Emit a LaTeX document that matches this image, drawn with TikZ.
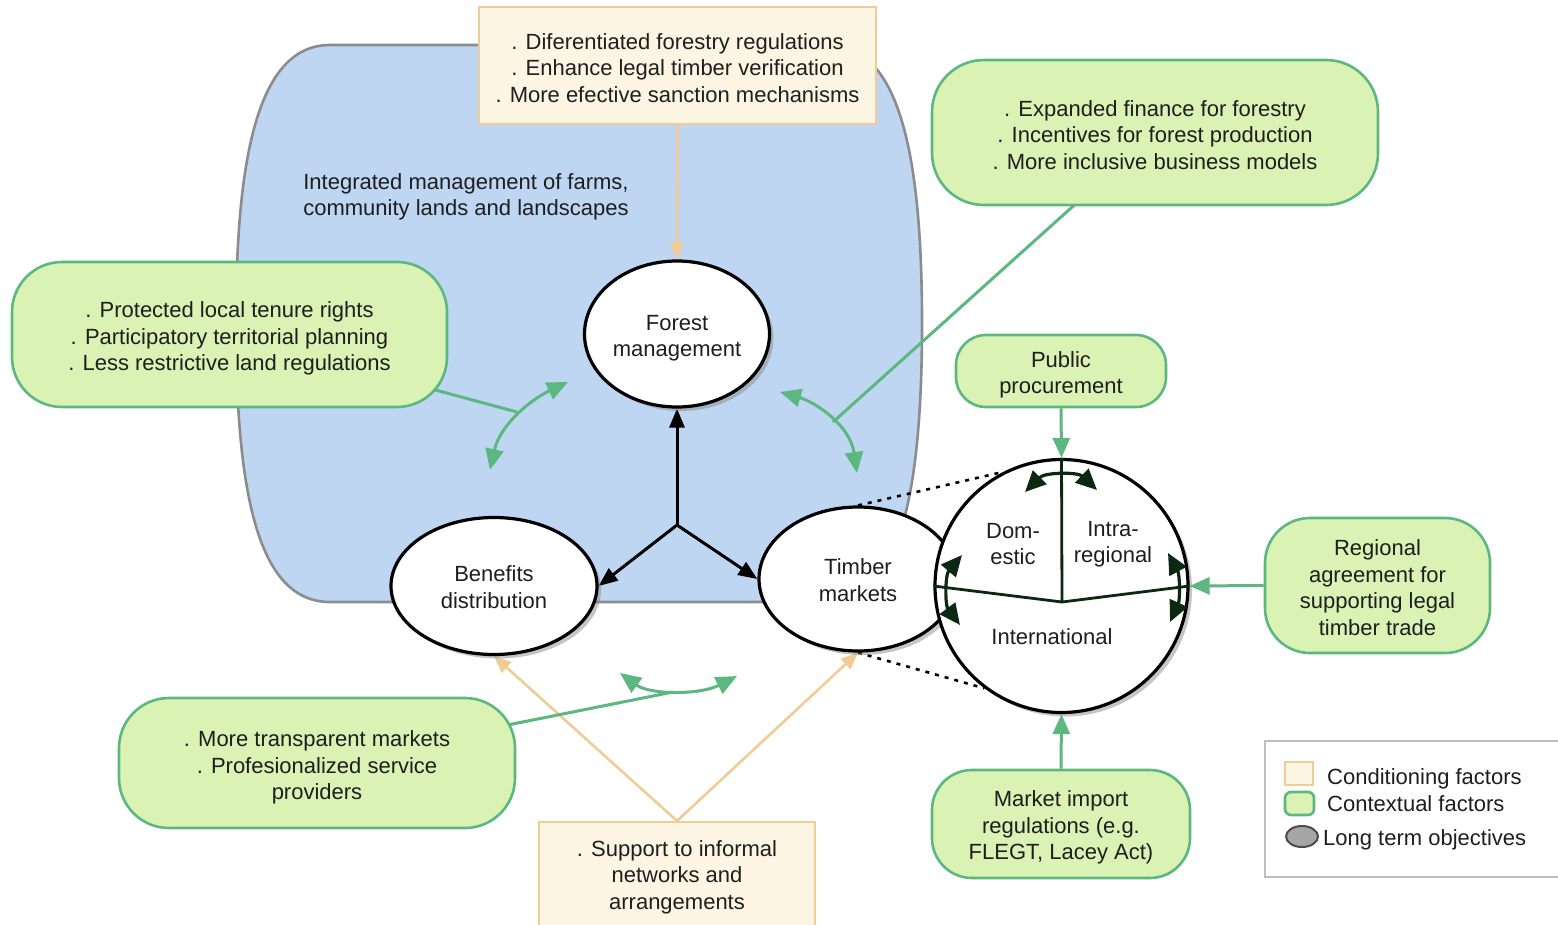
\documentclass[tikz,border=0pt]{standalone}
\usepackage{fontspec}
\setmainfont{Liberation Sans}
\usetikzlibrary{shapes.geometric,arrows.meta,shadows}
\definecolor{bluefill}{RGB}{190,214,242}
\definecolor{blueline}{RGB}{140,140,140}
\definecolor{ctxfill}{RGB}{218,242,180}
\definecolor{ctxline}{RGB}{92,184,128}
\definecolor{condfill}{RGB}{253,245,227}
\definecolor{condline}{RGB}{240,204,150}
\definecolor{darkarr}{RGB}{12,40,18}
\definecolor{txt}{RGB}{30,30,30}
\pgfdeclarelayer{bg}\pgfdeclarelayer{conn}\pgfsetlayers{bg,conn,main}
\begin{document}
\begin{tikzpicture}[x=1pt,y=-1pt,
  every node/.style={font=\fontsize{22}{26.5}\selectfont, text=txt, align=center, inner sep=0pt},
  ctx/.style={draw=ctxline, fill=ctxfill, line width=2.6pt, rectangle},
  cond/.style={draw=condline, fill=condfill, line width=2.2pt, rectangle},
  obj/.style={ellipse, draw=black, line width=3.2pt, fill=white, drop shadow={opacity=0.45, shadow xshift=4pt, shadow yshift=-4pt}},
  gline/.style={draw=ctxline, line width=3pt},
  garr/.style={gline, -{Triangle[length=20pt,width=17pt]}},
  gdbl/.style={gline, {Triangle[length=21pt,width=18pt]}-{Triangle[length=21pt,width=18pt]}},
  tarr/.style={draw=condline, line width=2.6pt, -{Triangle[length=17pt,width=14pt]}},
  barr/.style={draw=black, line width=3pt, -{Triangle[length=19pt,width=15pt]}},
  darr/.style={draw=darkarr, line width=3.2pt, {Triangle[length=21pt,width=19pt]}-{Triangle[length=21pt,width=19pt]}},
  dots/.style={draw=black, line width=2.6pt, dash pattern=on 4pt off 6pt}
]
\useasboundingbox (0,0) rectangle (1558,924);

% blue region
\begin{pgfonlayer}{bg}
\fill[white] (0,0) rectangle (1558,924);
\draw[fill=bluefill, draw=blueline, line width=2.6pt]
  (330,45) -- (828,45)
  .. controls (898,45) and (922,150) .. (922,323)
  .. controls (922,500) and (898,602) .. (828,602)
  -- (330,602)
  .. controls (260,602) and (236,500) .. (236,323)
  .. controls (236,150) and (260,45) .. (330,45) -- cycle;
\end{pgfonlayer}

% conditioning boxes
\node[cond, minimum width=397pt, minimum height=117pt] (tcond) at (677.5,65.5) {};
\node (tcondt) at ([yshift=-2.5pt]tcond.center)
  {. Diferentiated forestry regulations\\. Enhance legal timber verification\\. More efective sanction mechanisms};
\node[cond, minimum width=276pt, minimum height=112pt] (bcond) at (677,878) {};
\node (bcondt) at (677,877) {. Support to informal\\networks and\\arrangements};

% contextual boxes
\node[ctx, rounded corners=50pt, minimum width=435pt, minimum height=145pt] (lbox) at (229.5,334.5) {};
\node (lboxt) at ([yshift=-4pt]lbox.center)
  {. Protected local tenure rights\\. Participatory territorial planning\\. Less restrictive land regulations};
\node[ctx, rounded corners=52pt, minimum width=446pt, minimum height=145pt] (trbox) at (1155,132.5) {};
\node (trboxt) at ([yshift=-2.5pt]trbox.center)
  {. Expanded finance for forestry\\. Incentives for forest production\\. More inclusive business models};
\node[ctx, rounded corners=30pt, minimum width=210pt, minimum height=72pt] (pp) at (1061,371) {};
\node (ppt) at ([yshift=-4pt]pp.center) {Public\\procurement};
\node[ctx, rounded corners=45pt, minimum width=225pt, minimum height=135pt] (reg) at (1377.5,585.5) {};
\node (regt) at ([yshift=-2pt]reg.center) {Regional\\agreement for\\supporting legal\\timber trade};
\node[ctx, rounded corners=40pt, minimum width=258pt, minimum height=108pt] (mi) at (1061,824) {};
\node (mit) at ([yshift=-3.5pt]mi.center) {Market import\\regulations (e.g.\\FLEGT, Lacey Act)};
\node[ctx, rounded corners=50pt, minimum width=396pt, minimum height=130pt] (blbox) at (317,763) {};
\node (blboxt) at ([yshift=-4.5pt]blbox.center) {. More transparent markets\\. Profesionalized service\\providers};

% region title
\node (title) at (466,197) {Integrated management of farms,\\community lands and landscapes};

% objectives
\node[obj, minimum width=185pt, minimum height=146pt] (fm) at (677,334) {};
\node (fmt) at (677,338) {Forest\\management};
\node[obj, minimum width=206pt, minimum height=137pt] (bd) at (494,586) {};
\node (bdt) at (494,587) {Benefits\\distribution};
\node[obj, minimum width=198pt, minimum height=144pt] (tm) at (858,579) {};
\node (tmt) at (858,580) {Timber\\markets};
\node[obj, circle, minimum size=253pt] (mk) at (1061.5,586) {};

% junction coordinates
\coordinate (jn) at (677,525);
\coordinate (lj) at (517,412);
\coordinate (rj) at (833,422);
\coordinate (bj) at (673,692);
\coordinate (lt1) at (568,382);
\coordinate (lt2) at (490,470);
\coordinate (rt1) at (780,392);
\coordinate (rt2) at (857,473);
\coordinate (bt1) at (620,673);
\coordinate (bt2) at (737,676);
\coordinate (mc) at (1062,602);

\begin{pgfonlayer}{conn}
\draw[tarr] (tcond.south) -- (fm.north);
\draw[tarr] (bcond.north) -- (bd.south);
\draw[tarr] (bcond.north) -- (tm.south);
\draw[barr] (jn) -- (fm.south);
\draw[barr] (jn) -- (bd.east);
\draw[barr] (jn) -- (tm.west);
\draw[gline] (lbox.center) -- (lj);
\draw[gdbl] (lt2) .. controls (500,425) and (530,400) .. (lt1);
\draw[gline] (trbox.center) -- (rj);
\draw[gdbl] (rt1) .. controls (815,402) and (850,425) .. (rt2);
\draw[gline] (blbox.center) -- (bj);
\draw[gdbl] (bt1) .. controls (650,695) and (700,695) .. (bt2);
\draw[garr] (pp.south) -- (mk.north);
\draw[garr] (reg.west) -- (mk.east);
\draw[garr] (mi.north) -- (mk.south);
\draw[dots] (tm.north) -- (mk.117);
\draw[dots] (tm.south) -- (mk.233);
\end{pgfonlayer}

% market circle interior
\draw[draw=darkarr, line width=2.8pt] (mk.north) -- (mc);
\draw[draw=darkarr, line width=2.8pt] (mk.west) -- (mc) -- (mk.east);
\node (dom) at (1013,544) {Dom-\\estic};
\node (intra) at (1113,544) {Intra-\\regional};
\node (intl) at (1052,637) {International};
\draw[darr] (1025,492) .. controls (1045,472) and (1078,472) .. (1097,490);
\draw[darr] (962,555) .. controls (945,575) and (945,605) .. (960,625);
\draw[darr] (1168,553) .. controls (1180,575) and (1180,600) .. (1170,622);

% legend
\node[draw=black!25, line width=2.2pt, minimum width=310pt, minimum height=136pt, anchor=north west] (leg) at (1264,740) {};
\node[cond, minimum width=28pt, minimum height=23pt] (lc) at (1299,773.5) {};
\node[ctx, rounded corners=6pt, minimum width=29pt, minimum height=23pt] (lx) at (1299.5,803.5) {};
\node[ellipse, draw=black!70, fill=black!35, line width=2pt, minimum width=32pt, minimum height=21pt] (lo) at (1302,836.5) {};
\node[anchor=base west] (lct) at (1327,784) {Conditioning factors};
\node[anchor=base west] (lxt) at (1327,811) {Contextual factors};
\node[anchor=base west] (lot) at (1323,845) {Long term objectives};
\end{tikzpicture}
\end{document}
